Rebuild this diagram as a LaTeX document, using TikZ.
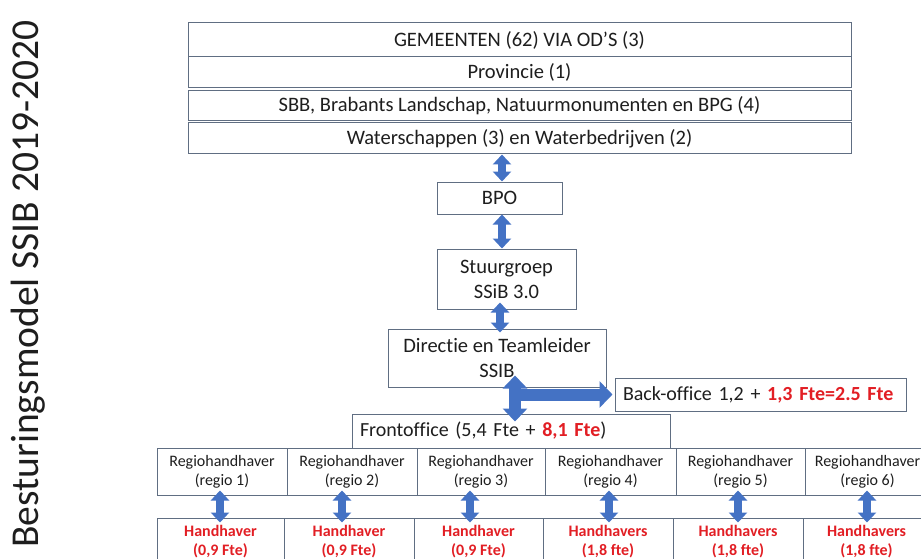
\documentclass[tikz,border=0pt]{standalone}
\usepackage{fontspec}
\setmainfont{Carlito}[Ligatures=NoCommon]
\usetikzlibrary{arrows.meta}
\definecolor{boxline}{RGB}{96,110,130}
\definecolor{arrowblue}{RGB}{68,114,196}
\definecolor{fteRed}{RGB}{226,30,36}
\definecolor{inkgray}{RGB}{30,30,30}
\tikzset{
box/.style={draw=boxline, line width=1pt, fill=white, inner sep=0pt, align=center, text=inkgray,
  font=\fontsize{20.5}{25}\selectfont},
leftbox/.style={box, align=left, inner xsep=8pt, font=\fontsize{20}{25}\selectfont},
regiobox/.style={box, minimum height=47pt, font=\fontsize{16}{19}\selectfont},
hhbox/.style={regiobox, text=fteRed, font=\fontsize{16}{19}\selectfont\bfseries},
dblarrow/.style={arrowblue, line width=8pt, {Triangle[width=18pt,length=10pt]}-{Triangle[width=18pt,length=10pt]}},
bigdblarrow/.style={arrowblue, line width=12pt, {Triangle[width=24pt,length=13pt]}-{Triangle[width=24pt,length=13pt]}},
bigarrow/.style={arrowblue, line width=12pt, -{Triangle[width=26pt,length=13pt]}}
}
\begin{document}
\begin{tikzpicture}[x=1pt,y=-1pt]
\useasboundingbox (0,0) rectangle (921,559);
\clip (0,0) rectangle (921,559);

\node[font=\fontsize{39.5}{48}\selectfont, text=inkgray, rotate=90] (title) at (28,284) {Besturingsmodel SSIB 2019-2020};

\node[box, minimum width=663pt, minimum height=34pt] (gem) at (519.5,40) {GEMEENTEN (62) VIA OD’S (3)};
\node[box, minimum width=663pt, minimum height=31pt] (prov) at (519.5,72.5) {Provincie (1)};
\node[box, minimum width=663pt, minimum height=30pt] (sbb) at (519.5,106) {SBB, Brabants Landschap, Natuurmonumenten en BPG (4)};
\node[box, minimum width=663pt, minimum height=31pt] (water) at (519.5,138.5) {Waterschappen (3) en Waterbedrijven (2)};

\node[box, minimum width=125pt, minimum height=32pt] (bpo) at (499.5,198) {BPO};
\node[box, minimum width=139pt, minimum height=60pt] (stuur) at (506.5,279) {Stuurgroep\\SSiB 3.0};
\node[box, minimum width=218pt, minimum height=58pt] (dir) at (497,358) {Directie en Teamleider\\SSIB};
\node[leftbox, text width=275pt, minimum height=33pt] (back) at (760.5,394.5) {\mbox{Back-office 1,2 + \textcolor{fteRed}{\bfseries 1,3 Fte=2.5 Fte}}};
\node[leftbox, text width=302pt, minimum height=34pt] (front) at (511,431) {\mbox{Frontoffice (5,4 Fte + \textcolor{fteRed}{\bfseries 8,1 Fte})}};

\node[regiobox, minimum width=130pt] (r1) at (222,471.5) {Regiohandhaver\\(regio 1)};
\node[regiobox, minimum width=130pt] (r2) at (352,471.5) {Regiohandhaver\\(regio 2)};
\node[regiobox, minimum width=128pt] (r3) at (481,471.5) {Regiohandhaver\\(regio 3)};
\node[regiobox, minimum width=131pt] (r4) at (610.5,471.5) {Regiohandhaver\\(regio 4)};
\node[regiobox, minimum width=129pt] (r5) at (740.5,471.5) {Regiohandhaver\\(regio 5)};
\node[regiobox, minimum width=125pt] (r6) at (867.5,471.5) {Regiohandhaver\\(regio 6)};

\node[hhbox, minimum width=127pt] (h1) at (220.5,541.5) {Handhaver\\(0,9 Fte)};
\node[hhbox, minimum width=130pt] (h2) at (349,541.5) {Handhaver\\(0,9 Fte)};
\node[hhbox, minimum width=129pt] (h3) at (478.5,541.5) {Handhaver\\(0,9 Fte)};
\node[hhbox, minimum width=130pt] (h4) at (608,541.5) {Handhavers\\(1,8 fte)};
\node[hhbox, minimum width=130pt] (h5) at (738,541.5) {Handhavers\\(1,8 fte)};
\node[hhbox, minimum width=127pt] (h6) at (866.5,541.5) {Handhavers\\(1,8 fte)};

\draw[dblarrow] ([xshift=2.5pt]water.south -| bpo.north) -- ([xshift=2.5pt]bpo.north);
\draw[dblarrow] ([xshift=2.5pt]bpo.south) -- ([xshift=2.5pt]stuur.north -| bpo.south);
\draw[dblarrow] ([shift={(3pt,7pt)}]stuur.south -| dir.north) -- ([shift={(3pt,-4pt)}]dir.north);
\draw[bigarrow] ([xshift=-104pt]back.west) -- ([xshift=-2pt]back.west);
\draw[bigdblarrow] ([xshift=18pt,yshift=12pt]dir.south) -- ([xshift=4pt,yshift=-8pt]front.north);

\draw[dblarrow] ([shift={(-2pt,5pt)}]r1.south) -- ([shift={(-0.5pt,-5pt)}]h1.north);
\draw[dblarrow] ([shift={(-10pt,5pt)}]r2.south) -- ([shift={(-7pt,-5pt)}]h2.north);
\draw[dblarrow] ([shift={(-11pt,5pt)}]r3.south) -- ([shift={(-8.5pt,-5pt)}]h3.north);
\draw[dblarrow] ([shift={(-1.5pt,5pt)}]r4.south) -- ([shift={(1pt,-5pt)}]h4.north);
\draw[dblarrow] ([shift={(-2.5pt,5pt)}]r5.south) -- ([shift={(0pt,-5pt)}]h5.north);
\draw[dblarrow] ([shift={(-0.5pt,5pt)}]r6.south) -- ([shift={(0.5pt,-5pt)}]h6.north);

\end{tikzpicture}
\end{document}
